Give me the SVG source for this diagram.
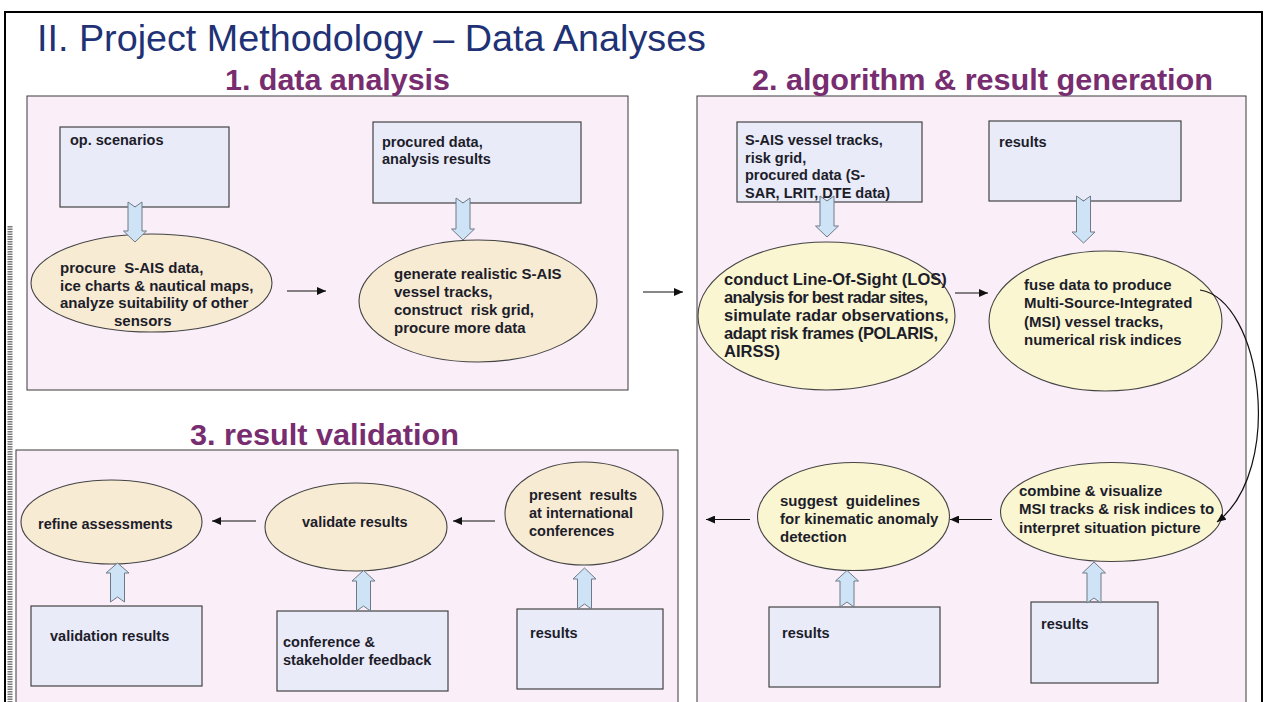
<svg xmlns="http://www.w3.org/2000/svg" width="1265" height="702" viewBox="0 0 1265 702">
  <defs>
    <marker id="head" markerUnits="userSpaceOnUse" markerWidth="9" markerHeight="8" refX="9" refY="4" orient="auto">
      <path d="M0,0 L9,4 L0,8 Z" fill="#111"/>
    </marker>
    <style>
      .frame { fill: none; stroke: #000; stroke-width: 2; }
      .panel { fill: #FAEEF8; stroke: #3a3a3a; stroke-width: 1; }
      .box { fill: #E9EBF9; stroke: #444; stroke-width: 1.2; }
      .oval { fill: #F7EBD4; stroke: #444; stroke-width: 1.1; }
      .oval2 { fill: #FAF6D2; stroke: #444; stroke-width: 1.1; }
      .blk { fill: #CFE3F7; stroke: #6f7a86; stroke-width: 1; }
      .link { fill: none; stroke: #111; stroke-width: 1.2; marker-end: url(#head); }
      .title { font-family: "Liberation Sans", Arial, sans-serif; font-size: 37px; fill: #1F3275; }
      .sec { font-family: "Liberation Sans", Arial, sans-serif; font-size: 30px; font-weight: bold; fill: #772D6F; }
      .t { font-family: "Liberation Sans", Arial, sans-serif; font-size: 15px; font-weight: bold; fill: #1d1d2a; }
      .tb { font-family: "Liberation Sans", Arial, sans-serif; font-size: 14.5px; font-weight: bold; fill: #1d1d2a; }
      .tl { font-family: "Liberation Sans", Arial, sans-serif; font-size: 16.5px; font-weight: bold; fill: #1d1d2a; }
    </style>
  </defs>

  <rect x="0" y="0" width="1265" height="702" fill="#fff"/>

  <!-- slide frame -->
  <path class="frame" d="M5,710 L5,12 L1262,12 L1262,710"/>
  <line x1="10" y1="226" x2="10" y2="702" stroke="#444" stroke-width="5" stroke-dasharray="1.5 1" opacity="0.7"/>

  <text class="title" x="37" y="51" textLength="669" lengthAdjust="spacingAndGlyphs">II. Project Methodology – Data Analyses</text>

  <!-- section panels -->
  <g id="panel-1">
    <rect class="panel" x="27" y="96" width="601" height="294"/>
    <text class="sec" x="225" y="90" textLength="225" lengthAdjust="spacingAndGlyphs">1. data analysis</text>
  </g>
  <g id="panel-2">
    <rect class="panel" x="697" y="96" width="549" height="620"/>
    <text class="sec" x="752" y="90" textLength="461" lengthAdjust="spacingAndGlyphs">2. algorithm &amp; result generation</text>
  </g>
  <g id="panel-3">
    <rect class="panel" x="16" y="450" width="662" height="270"/>
    <text class="sec" x="190" y="445" textLength="269" lengthAdjust="spacingAndGlyphs">3. result validation</text>
  </g>

  <!-- 1. data analysis -->
  <g id="op-scenarios">
    <rect class="box" x="60" y="127" width="169" height="80"/>
    <text class="tb" x="70" y="145">op. scenarios</text>
  </g>
  <g id="procure">
    <ellipse class="oval" cx="151.5" cy="283" rx="120.5" ry="49"/>
    <text class="t" x="60" y="273" xml:space="preserve">procure  S-AIS data,</text>
    <text class="t" x="60" y="290.5">ice charts &amp; nautical maps,</text>
    <text class="t" x="60" y="308">analyze suitability of other</text>
    <text class="t" x="114" y="325.5">sensors</text>
  </g>
  <g id="procured-data">
    <rect class="box" x="373" y="122" width="208" height="81"/>
    <text class="tb" x="382" y="146.5">procured data,</text>
    <text class="tb" x="382" y="164">analysis results</text>
  </g>
  <g id="generate">
    <ellipse class="oval" cx="478" cy="301" rx="119" ry="61"/>
    <text class="t" x="394" y="278.5">generate realistic S-AIS</text>
    <text class="t" x="394" y="296.5">vessel tracks,</text>
    <text class="t" x="394" y="314.5" xml:space="preserve">construct  risk grid,</text>
    <text class="t" x="394" y="332.5">procure more data</text>
  </g>

  <!-- 2. algorithm & result generation -->
  <g id="sais-input">
    <rect class="box" x="737" y="122" width="185" height="80"/>
    <text class="tb" x="745" y="145">S-AIS vessel tracks,</text>
    <text class="tb" x="745" y="162.5">risk grid,</text>
    <text class="tb" x="745" y="180">procured data (S-</text>
    <text class="tb" x="745" y="197.5">SAR, LRIT, DTE data)</text>
  </g>
  <g id="los">
    <ellipse class="oval2" cx="826.5" cy="316" rx="128.5" ry="74"/>
    <text class="tl" x="724" y="285">conduct Line-Of-Sight (LOS)</text>
    <text class="tl" x="724" y="303" textLength="204" lengthAdjust="spacing">analysis for best radar sites,</text>
    <text class="tl" x="724" y="321">simulate radar observations,</text>
    <text class="tl" x="724" y="339" textLength="214" lengthAdjust="spacing">adapt risk frames (POLARIS,</text>
    <text class="tl" x="724" y="357">AIRSS)</text>
  </g>
  <g id="results-a">
    <rect class="box" x="989" y="121" width="192" height="80"/>
    <text class="tb" x="999" y="147">results</text>
  </g>
  <g id="fuse">
    <ellipse class="oval2" cx="1105.5" cy="321" rx="116.5" ry="70"/>
    <text class="t" x="1024" y="290">fuse data to produce</text>
    <text class="t" x="1024" y="308.3">Multi-Source-Integrated</text>
    <text class="t" x="1024" y="326.5">(MSI) vessel tracks,</text>
    <text class="t" x="1024" y="344.5">numerical risk indices</text>
  </g>
  <g id="combine">
    <ellipse class="oval2" cx="1111.5" cy="512" rx="111" ry="49.5"/>
    <text class="t" x="1019" y="496">combine &amp; visualize</text>
    <text class="t" x="1019" y="514.3">MSI tracks &amp; risk indices to</text>
    <text class="t" x="1019" y="532.5">interpret situation picture</text>
  </g>
  <g id="results-b">
    <rect class="box" x="1031" y="602" width="127" height="81"/>
    <text class="tb" x="1041" y="628.5">results</text>
  </g>
  <g id="suggest">
    <ellipse class="oval2" cx="853.5" cy="516.5" rx="96" ry="54"/>
    <text class="t" x="780" y="506" xml:space="preserve">suggest  guidelines</text>
    <text class="t" x="780" y="524">for kinematic anomaly</text>
    <text class="t" x="780" y="542">detection</text>
  </g>
  <g id="results-c">
    <rect class="box" x="769" y="607" width="171" height="80"/>
    <text class="tb" x="782" y="637.5">results</text>
  </g>

  <!-- 3. result validation -->
  <g id="present">
    <ellipse class="oval" cx="584" cy="513.5" rx="79" ry="51.5"/>
    <text class="tb" x="529" y="499.5" xml:space="preserve">present  results</text>
    <text class="tb" x="529" y="517.5">at international</text>
    <text class="tb" x="529" y="535.5">conferences</text>
  </g>
  <g id="results-d">
    <rect class="box" x="517" y="609" width="146" height="80"/>
    <text class="tb" x="530" y="637.5">results</text>
  </g>
  <g id="validate">
    <ellipse class="oval" cx="356" cy="527" rx="91" ry="44"/>
    <text class="tb" x="302" y="527">validate results</text>
  </g>
  <g id="feedback">
    <rect class="box" x="277" y="611" width="171" height="80"/>
    <text class="tb" x="283" y="647">conference &amp;</text>
    <text class="tb" x="283" y="664.5">stakeholder feedback</text>
  </g>
  <g id="refine">
    <ellipse class="oval" cx="111.5" cy="522" rx="90.5" ry="42"/>
    <text class="tb" x="38" y="528.5">refine assessments</text>
  </g>
  <g id="validation-results">
    <rect class="box" x="31" y="606" width="171" height="80"/>
    <text class="tb" x="50" y="641">validation results</text>
  </g>

  <g id="connectors">
    <!-- block arrows: inputs feeding each step -->
    <path class="blk" d="M128,202 L135,207 L142,202 L142,231 L146.5,231 L135,242 L123.5,231 L128,231 Z"/>
    <path class="blk" d="M456,198 L463,203 L470,198 L470,229 L474.5,229 L463,240 L451.5,229 L456,229 Z"/>
    <path class="blk" d="M820,196 L827,201 L834,196 L834,226 L838.5,226 L827,237 L815.5,226 L820,226 Z"/>
    <path class="blk" d="M1076.5,196 L1083.5,201 L1090.5,196 L1090.5,232 L1095,232 L1083.5,243 L1072,232 L1076.5,232 Z"/>
    <path class="blk" d="M1087,603 L1094,598 L1101,603 L1101,573 L1105.5,573 L1094,562 L1082.5,573 L1087,573 Z"/>
    <path class="blk" d="M840,607 L847,602 L854,607 L854,581 L858.5,581 L847,570.5 L835.5,581 L840,581 Z"/>
    <path class="blk" d="M577.5,609 L584.5,604 L591.5,609 L591.5,579 L596,579 L584.5,568 L573,579 L577.5,579 Z"/>
    <path class="blk" d="M356.5,611 L363.5,606 L370.5,611 L370.5,581 L375,581 L363.5,570.5 L352,581 L356.5,581 Z"/>
    <path class="blk" d="M110.5,602 L117.5,597 L124.5,602 L124.5,573 L129,573 L117.5,563 L106,573 L110.5,573 Z"/>

    <!-- flow arrows -->
    <line class="link" x1="287" y1="291" x2="326" y2="291"/>
    <line class="link" x1="643" y1="292" x2="683" y2="292"/>
    <line class="link" x1="955" y1="293" x2="988" y2="293"/>
    <path class="link" d="M1200,290 C1262,300 1285,470 1217,522"/>
    <line class="link" x1="992" y1="519.5" x2="950" y2="519.5"/>
    <line class="link" x1="750" y1="519.5" x2="706" y2="519.5"/>
    <line class="link" x1="495" y1="521" x2="453" y2="521"/>
    <line class="link" x1="256" y1="521" x2="212" y2="521"/>
  </g>
</svg>
